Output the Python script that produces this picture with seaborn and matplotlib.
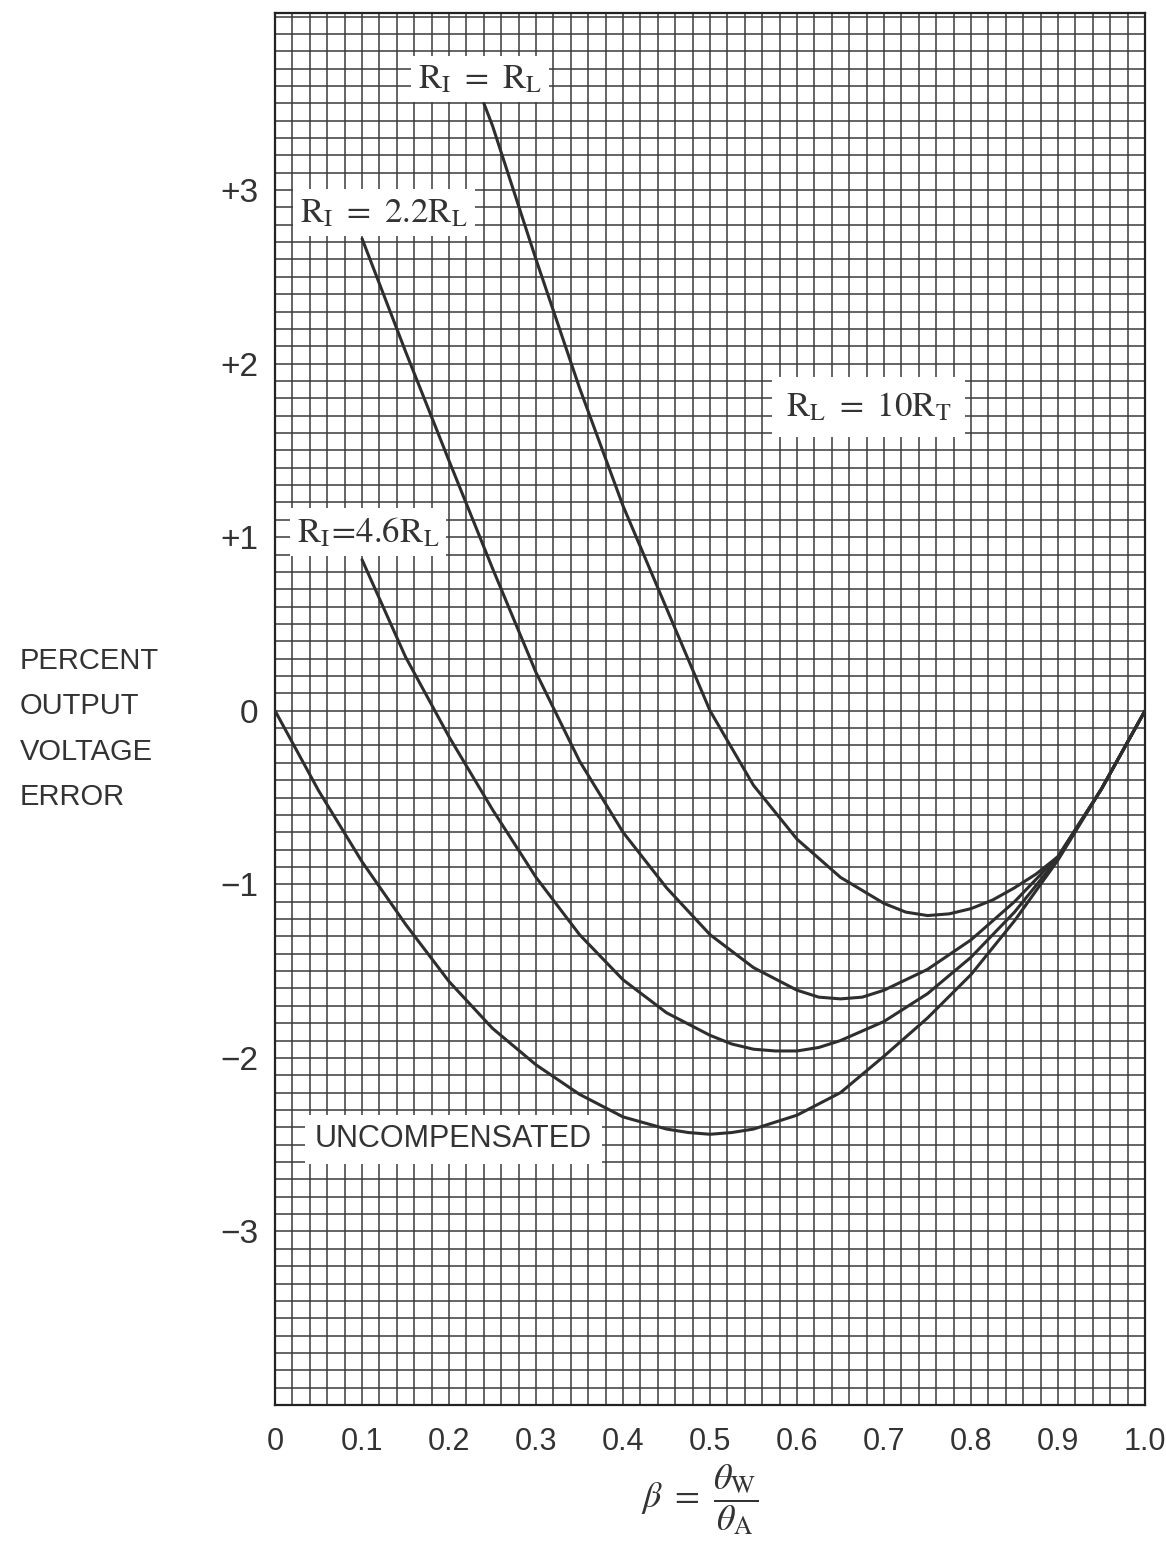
import numpy as np
import pandas as pd
import matplotlib
matplotlib.use('Agg')
import matplotlib.pyplot as plt
import seaborn as sns

# values (beta, percent error)
beta_uncomp = [0, 0.05, 0.1, 0.15, 0.2, 0.25, 0.3, 0.35, 0.4, 0.45, 0.475, 0.5,
               0.525, 0.55, 0.6, 0.65, 0.7, 0.75, 0.8, 0.85, 0.9, 0.95, 1.0]
err_uncomp = [0, -0.46, -0.87, -1.23, -1.56, -1.83, -2.04, -2.21, -2.34, -2.41, -2.43, -2.44,
              -2.43, -2.41, -2.33, -2.2, -1.99, -1.77, -1.52, -1.21, -0.86, -0.45, 0]

beta_46 = [0.1, 0.15, 0.2, 0.25, 0.3, 0.35, 0.4, 0.45, 0.5, 0.525, 0.55, 0.575,
           0.6, 0.625, 0.65, 0.7, 0.75, 0.8, 0.85, 0.9, 0.95, 1.0]
err_46 = [0.87, 0.31, -0.15, -0.57, -0.96, -1.29, -1.55, -1.74, -1.87, -1.92, -1.95, -1.96,
          -1.96, -1.94, -1.9, -1.79, -1.63, -1.42, -1.16, -0.85, -0.45, 0]

beta_22 = [0.1, 0.15, 0.2, 0.25, 0.3, 0.35, 0.4, 0.45, 0.5, 0.55, 0.6,
           0.625, 0.65, 0.675, 0.7, 0.75, 0.8, 0.85, 0.9, 0.95, 1.0]
err_22 = [2.72, 2.07, 1.44, 0.82, 0.22, -0.29, -0.7, -1.02, -1.29, -1.48, -1.61,
          -1.65, -1.66, -1.65, -1.61, -1.49, -1.32, -1.1, -0.84, -0.45, 0]

beta_rl = [0.24, 0.25, 0.3, 0.35, 0.4, 0.45, 0.5, 0.55, 0.6, 0.65, 0.7,
           0.725, 0.75, 0.775, 0.8, 0.825, 0.85, 0.875, 0.9, 0.95, 1.0]
err_rl = [3.5, 3.37, 2.6, 1.86, 1.18, 0.59, 0.0, -0.43, -0.74, -0.96, -1.11,
          -1.16, -1.18, -1.17, -1.14, -1.09, -1.02, -0.94, -0.84, -0.45, 0]

curves = [(beta_uncomp, err_uncomp), (beta_46, err_46), (beta_22, err_22), (beta_rl, err_rl)]

x_ticks = [0, 0.1, 0.2, 0.3, 0.4, 0.5, 0.6, 0.7, 0.8, 0.9, 1.0]
x_labels = ['0', '0.1', '0.2', '0.3', '0.4', '0.5', '0.6', '0.7', '0.8', '0.9', '1.0']
y_ticks = [-3, -2, -1, 0, 1, 2, 3]
y_labels = ['\u22123', '\u22122', '\u22121', '0', '+1', '+2', '+3']

sns.set_style('white')
plt.rcParams['font.family'] = ['Liberation Sans Narrow', 'Liberation Sans', 'DejaVu Sans']
plt.rcParams['mathtext.fontset'] = 'stix'

fig = plt.figure(figsize=(11.66, 15.52), dpi=100)
ax = fig.add_axes([0.2359, 0.0947, 0.7461, 0.8969])

# graph paper
for gx in np.arange(0, 1.0001, 0.02):
    ax.axvline(gx, color='#3a3a3a', lw=1.1, zorder=1)
for gy in np.arange(-4, 4.0001, 0.1):
    ax.axhline(gy, color='#3a3a3a', lw=1.1, zorder=1)

for bx, ey in curves:
    df = pd.DataFrame({'beta': bx, 'err': ey})
    sns.lineplot(data=df, x='beta', y='err', sort=False, estimator=None,
                 color='#2e2e2e', lw=2.2, ax=ax, zorder=3)

box = dict(facecolor='white', edgecolor='none', pad=5)
ax.text(0.236, 3.64, r'$\mathrm{R}_{\mathrm{I}}\ =\ \mathrm{R}_{\mathrm{L}}$', fontsize=25,
        ha='center', va='center', bbox=box, zorder=4, color='#333333')
ax.text(0.125, 2.87, r'$\mathrm{R}_{\mathrm{I}}\ =\ 2.2\mathrm{R}_{\mathrm{L}}$', fontsize=25,
        ha='center', va='center', bbox=box, zorder=4, color='#333333')
ax.text(0.107, 1.03, r'$\mathrm{R}_{\mathrm{I}}\!=\!4.6\mathrm{R}_{\mathrm{L}}$', fontsize=25,
        ha='center', va='center', bbox=box, zorder=4, color='#333333')
ax.text(0.682, 1.75, r'$\mathrm{R}_{\mathrm{L}}\ =\ 10\mathrm{R}_{\mathrm{T}}$', fontsize=25,
        ha='center', va='center', bbox=dict(facecolor='white', edgecolor='none', pad=10),
        zorder=4, color='#333333')
ax.text(0.205, -2.47, 'UNCOMPENSATED', fontsize=22, ha='center', va='center',
        bbox=dict(facecolor='white', edgecolor='none', pad=7), zorder=4, color='#333333')

ax.set_xlim(0, 1.0)
ax.set_ylim(-4, 4.02)
ax.set_xticks(x_ticks)
ax.set_xticklabels(x_labels, fontsize=22, color='#333333')
ax.set_yticks(y_ticks)
ax.set_yticklabels(y_labels, fontsize=24, color='#333333')
ax.tick_params(axis='x', length=0, pad=16)
ax.tick_params(axis='y', length=0, pad=12)
ax.set_xlabel('')
ax.set_ylabel('')
for s in ax.spines.values():
    s.set_color('#222222')
    s.set_linewidth(1.6)

fig.text(20 / 1166, 1 - 729 / 1552, 'PERCENT\nOUTPUT\nVOLTAGE\nERROR', fontsize=21,
         ha='left', va='center', linespacing=1.78, color='#333333')
fig.text(700 / 1166, 1 - 1500 / 1552,
         r'$\beta\ =\ \dfrac{\theta_{\mathrm{W}}}{\theta_{\mathrm{A}}}$',
         fontsize=26, ha='center', va='center', color='#333333')

fig.savefig('out.png', dpi=100, facecolor='white')
